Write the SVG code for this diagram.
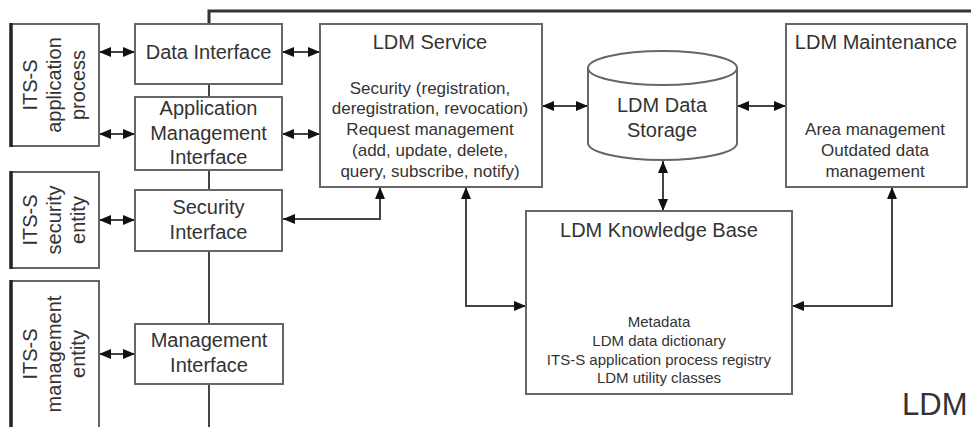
<svg xmlns="http://www.w3.org/2000/svg" width="971" height="427" viewBox="0 0 971 427">
<style>
.box{fill:#fff;stroke:#666;stroke-width:2}
.edge{stroke:#222;stroke-width:3.5}
.t{font-family:"Liberation Sans",Arial,sans-serif;fill:#333;text-anchor:middle}
.big{font-size:20px}
.body{font-size:17px}
.small{font-size:15px}
.con{fill:none;stroke:#444;stroke-width:2;marker-start:url(#ah);marker-end:url(#ah)}
.frame{fill:none;stroke:#333;stroke-width:3}
</style>
<defs>
<marker id="ah" viewBox="0 0 12 10" refX="12" refY="5" markerWidth="12" markerHeight="10" markerUnits="userSpaceOnUse" orient="auto-start-reverse">
<path d="M0,0 L12,5 L0,10 z" fill="#111"/>
</marker>
</defs>
<rect width="971" height="427" fill="#fff"/>
<g id="frame">
<path class="frame" d="M209,24 V11 H971"/>
<line x1="209" y1="24" x2="209" y2="427" stroke="#444" stroke-width="2"/>
</g>
<g id="connectors">
<line class="con" x1="99" y1="52" x2="135" y2="52"/>
<line class="con" x1="99" y1="134" x2="135" y2="134"/>
<line class="con" x1="99" y1="220" x2="135" y2="220"/>
<line class="con" x1="99" y1="354" x2="135" y2="354"/>
<line class="con" x1="282" y1="52" x2="320" y2="52"/>
<line class="con" x1="282" y1="134" x2="320" y2="134"/>
<path class="con" d="M283,219 H380 V187"/>
<path class="con" d="M466,187 V306 H526"/>
<line class="con" x1="542" y1="106" x2="588" y2="106"/>
<line class="con" x1="737" y1="106" x2="786" y2="106"/>
<line class="con" x1="663" y1="161" x2="663" y2="211"/>
<path class="con" d="M892,187 V306 H792"/>
</g>
<g id="its-app">
<rect class="box" x="11" y="24" width="88" height="122"/>
<line class="edge" x1="11" y1="23" x2="11" y2="147"/>
<g transform="translate(0,85) rotate(-90)">
<text class="t big" x="0" y="37">ITS-S</text>
<text class="t big" x="0" y="61">application</text>
<text class="t big" x="0" y="85">process</text>
</g>
</g>
<g id="its-sec">
<rect class="box" x="11" y="172" width="88" height="96"/>
<line class="edge" x1="11" y1="171" x2="11" y2="269"/>
<g transform="translate(0,220) rotate(-90)">
<text class="t big" x="0" y="37">ITS-S</text>
<text class="t big" x="0" y="61">security</text>
<text class="t big" x="0" y="85">entity</text>
</g>
</g>
<g id="its-mgmt">
<rect class="box" x="11" y="281" width="88" height="150"/>
<line class="edge" x1="11" y1="280" x2="11" y2="427"/>
<g transform="translate(0,354) rotate(-90)">
<text class="t big" x="0" y="37">ITS-S</text>
<text class="t big" x="0" y="61">management</text>
<text class="t big" x="0" y="85">entity</text>
</g>
</g>
<g id="data-if">
<rect class="box" x="135" y="24" width="147" height="60"/>
<text class="t big" x="208.5" y="59">Data Interface</text>
</g>
<g id="app-mgmt-if">
<rect class="box" x="135" y="97" width="147" height="73"/>
<text class="t big" x="208.5" y="115">Application</text>
<text class="t big" x="208.5" y="140">Management</text>
<text class="t big" x="208.5" y="164">Interface</text>
</g>
<g id="sec-if">
<rect class="box" x="135" y="190" width="147" height="61"/>
<text class="t big" x="208.5" y="214">Security</text>
<text class="t big" x="208.5" y="239">Interface</text>
</g>
<g id="mgmt-if">
<rect class="box" x="135" y="324" width="148" height="60"/>
<text class="t big" x="209" y="347">Management</text>
<text class="t big" x="209" y="372">Interface</text>
</g>
<g id="ldm-service">
<rect class="box" x="320" y="24" width="222" height="163"/>
<text class="t big" x="430" y="49">LDM Service</text>
<text class="t body" x="430" y="94">Security (registration,</text>
<text class="t body" x="430" y="114">deregistration, revocation)</text>
<text class="t body" x="430" y="135">Request management</text>
<text class="t body" x="430" y="156">(add, update, delete,</text>
<text class="t body" x="430" y="177">query, subscribe, notify)</text>
</g>
<g id="ldm-storage">
<path d="M588,68 V143 A74.5,17 0 0 0 737,143 V68" fill="#fff" stroke="#666" stroke-width="2"/>
<ellipse cx="662.5" cy="68" rx="74.5" ry="17" fill="#fff" stroke="#666" stroke-width="2"/>
<text class="t big" x="662" y="112">LDM Data</text>
<text class="t big" x="662" y="137">Storage</text>
</g>
<g id="ldm-maintenance">
<rect class="box" x="786" y="24" width="181" height="163"/>
<text class="t big" x="876" y="49">LDM Maintenance</text>
<text class="t body" x="875" y="135">Area management</text>
<text class="t body" x="875" y="156">Outdated data</text>
<text class="t body" x="875" y="177">management</text>
</g>
<g id="ldm-kb">
<rect class="box" x="526" y="211" width="266" height="183"/>
<text class="t big" x="659" y="237">LDM Knowledge Base</text>
<text class="t small" x="659" y="327">Metadata</text>
<text class="t small" x="659" y="346">LDM data dictionary</text>
<text class="t small" x="659" y="365">ITS-S application process registry</text>
<text class="t small" x="659" y="383">LDM utility classes</text>
</g>
<g id="ldm-label">
<text class="t" style="font-size:31px;text-anchor:start" x="902" y="415">LDM</text>
</g>
</svg>
